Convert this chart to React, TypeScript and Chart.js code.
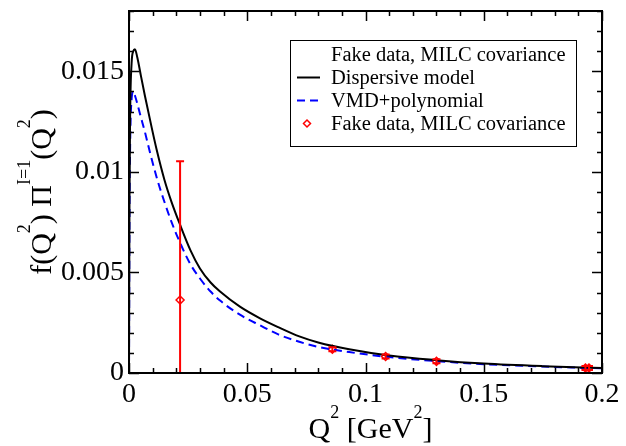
import React, { useEffect, useRef } from "react";
import { Chart, registerables } from "chart.js";
Chart.register(...registerables);

// ---- data ----
const dispQ2 = [0, 0.0002, 0.0005, 0.0011, 0.0018, 0.0025, 0.0035, 0.005, 0.0067, 0.0096, 0.0117, 0.015, 0.018, 0.0215, 0.026, 0.03, 0.0345, 0.0385, 0.0469, 0.0554, 0.0631, 0.072, 0.08, 0.0931, 0.11, 0.13, 0.15, 0.175, 0.2];
const dispY = [0, 0.0085, 0.013, 0.0154, 0.016, 0.0161, 0.0157, 0.0148, 0.0138, 0.0122, 0.0111, 0.0096, 0.0085, 0.0074, 0.0061, 0.0052, 0.0045, 0.00405, 0.0033, 0.00272, 0.00228, 0.00182, 0.00152, 0.00118, 0.00087, 0.00064, 0.00047, 0.00034, 0.00025];
const vmdQ2 = [0, 0.0002, 0.0005, 0.0011, 0.0018, 0.0025, 0.0035, 0.0046, 0.0067, 0.0088, 0.012, 0.015, 0.018, 0.0215, 0.026, 0.03, 0.0345, 0.0385, 0.0469, 0.0554, 0.0631, 0.072, 0.08, 0.0931, 0.11, 0.13, 0.15, 0.175, 0.2];
const vmdY = [0, 0.0075, 0.0115, 0.0136, 0.014, 0.0138, 0.0134, 0.0129, 0.012, 0.011, 0.0096, 0.0085, 0.0075, 0.0065, 0.0054, 0.0047, 0.00405, 0.0036, 0.0029, 0.00237, 0.00192, 0.00155, 0.0013, 0.00104, 0.00079, 0.00059, 0.00044, 0.00032, 0.00023];
const dataQ2 = [0.0216, 0.086, 0.1085, 0.13, 0.193, 0.1945];
const dataY = [0.00363, 0.00118, 0.00082, 0.00058, 0.00025, 0.00025];
const dataErr = [0.0069, 0.0001, 0.0001, 0.0001, 0.0001, 0.0001];

const xTicks = [0, 0.05, 0.1, 0.15, 0.2];
const xTickLabels = ["0", "0.05", "0.1", "0.15", "0.2"];
const yTicks = [0, 0.005, 0.01, 0.015];
const yTickLabels = ["0", "0.005", "0.01", "0.015"];
const xMinorStep = 0.01;
const yMinorStep = 0.001;

const legendLabels = ["Fake data, MILC covariance", "Dispersive model", "VMD+polynomial", "Fake data, MILC covariance"];

const FONT = "'Liberation Serif', 'Times New Roman', serif";

type Seg = { t: string; sup?: boolean };
const xTitle: Seg[] = [{ t: "Q" }, { t: "2", sup: true }, { t: " [GeV" }, { t: "2", sup: true }, { t: "]" }];
const yTitle: Seg[] = [{ t: "f(Q" }, { t: "2", sup: true }, { t: ") \u03A0" }, { t: "I=1", sup: true }, { t: "(Q" }, { t: "2", sup: true }, { t: ")" }];

function drawRich(ctx: CanvasRenderingContext2D, segs: Seg[], cx: number, baseline: number, size: number, supSize: number, supRaise: number) {
  let total = 0;
  const widths = segs.map((s) => {
    ctx.font = `${s.sup ? supSize : size}px ${FONT}`;
    const w = ctx.measureText(s.t).width;
    total += w;
    return w;
  });
  let x = cx - total / 2;
  ctx.textBaseline = "alphabetic";
  ctx.textAlign = "left";
  segs.forEach((s, i) => {
    ctx.font = `${s.sup ? supSize : size}px ${FONT}`;
    ctx.fillText(s.t, x, s.sup ? baseline - supRaise : baseline);
    x += widths[i];
  });
}

const framePlugin = {
  id: "frame",
  afterDatasetsDraw(chart: any) {
    const { ctx, chartArea } = chart;
    const { left, right, top, bottom } = chartArea;
    const ys = chart.scales.y;
    const xs = chart.scales.x;
    ctx.save();
    ctx.beginPath();
    ctx.rect(left, top, right - left, bottom - top);
    ctx.clip();
    ctx.strokeStyle = "#ff0000";
    ctx.lineWidth = 2;
    dataQ2.forEach((q, i) => {
      const px = xs.getPixelForValue(q);
      const p1 = ys.getPixelForValue(dataY[i] + dataErr[i]);
      const p0 = ys.getPixelForValue(dataY[i] - dataErr[i]);
      ctx.beginPath();
      ctx.moveTo(px, p0);
      ctx.lineTo(px, p1);
      ctx.moveTo(px - 4, p1);
      ctx.lineTo(px + 4, p1);
      ctx.moveTo(px - 4, p0);
      ctx.lineTo(px + 4, p0);
      ctx.stroke();
    });
    ctx.restore();
  },
  afterDraw(chart: any) {
    const { ctx, chartArea } = chart;
    const { left, right, top, bottom } = chartArea;
    const xs = chart.scales.x;
    const ys = chart.scales.y;
    ctx.save();
    ctx.strokeStyle = "#000";
    ctx.lineWidth = 1.5;
    const nx = Math.round((xs.max - xs.min) / xMinorStep);
    for (let i = 0; i <= nx; i++) {
      const v = xs.min + i * xMinorStep;
      const px = Math.round(xs.getPixelForValue(v)) + 0.5;
      const len = i % 5 === 0 ? 10 : 5;
      ctx.beginPath();
      ctx.moveTo(px, bottom);
      ctx.lineTo(px, bottom - len);
      ctx.moveTo(px, top);
      ctx.lineTo(px, top + len);
      ctx.stroke();
    }
    const ny = Math.round((ys.max - ys.min) / yMinorStep);
    for (let i = 0; i <= ny; i++) {
      const v = ys.min + i * yMinorStep;
      const py = Math.round(ys.getPixelForValue(v)) + 0.5;
      const len = i % 5 === 0 ? 10 : 5;
      ctx.beginPath();
      ctx.moveTo(left, py);
      ctx.lineTo(left + len, py);
      ctx.moveTo(right, py);
      ctx.lineTo(right - len, py);
      ctx.stroke();
    }
    ctx.lineWidth = 2;
    ctx.strokeRect(left, top, right - left, bottom - top);

    // axis titles
    ctx.fillStyle = "#000";
    drawRich(ctx, xTitle, (left + right) / 2 + 5, 438, 30, 18, 20);
    ctx.save();
    ctx.translate(51, (top + bottom) / 2);
    ctx.rotate(-Math.PI / 2);
    drawRich(ctx, yTitle, 0, 0, 30, 18, 21);
    ctx.restore();

    // legend
    const bx = 290, by = 40, bw = 286, bh = 106;
    ctx.fillStyle = "#fff";
    ctx.fillRect(bx, by, bw, bh);
    ctx.strokeStyle = "#000";
    ctx.lineWidth = 1;
    ctx.strokeRect(bx + 0.5, by + 0.5, bw, bh);
    ctx.font = `20.5px ${FONT}`;
    ctx.textAlign = "left";
    ctx.textBaseline = "alphabetic";
    const rowBase = [61, 84, 107, 130];
    legendLabels.forEach((lab, i) => {
      ctx.fillStyle = "#000";
      ctx.fillText(lab, 331, rowBase[i]);
      const cy = rowBase[i] - 6.5;
      if (i === 1) {
        ctx.strokeStyle = "#000";
        ctx.lineWidth = 2;
        ctx.setLineDash([]);
        ctx.beginPath();
        ctx.moveTo(297, cy);
        ctx.lineTo(320, cy);
        ctx.stroke();
      } else if (i === 2) {
        ctx.strokeStyle = "#0000ff";
        ctx.lineWidth = 2;
        ctx.setLineDash([8, 5]);
        ctx.beginPath();
        ctx.moveTo(297, cy);
        ctx.lineTo(320, cy);
        ctx.stroke();
        ctx.setLineDash([]);
      } else if (i === 3) {
        ctx.strokeStyle = "#ff0000";
        ctx.fillStyle = "#fff";
        ctx.lineWidth = 1.5;
        const r = 3.5;
        ctx.beginPath();
        ctx.moveTo(307, cy - r);
        ctx.lineTo(307 + r, cy);
        ctx.lineTo(307, cy + r);
        ctx.lineTo(307 - r, cy);
        ctx.closePath();
        ctx.fill();
        ctx.stroke();
      }
    });
    ctx.restore();
  },
};

export default function App() {
  const ref = useRef<HTMLCanvasElement | null>(null);
  useEffect(() => {
    if (!ref.current) return;
    const chart = new Chart(ref.current, {
      type: "scatter",
      data: {
        datasets: [
          {
            label: legendLabels[1],
            data: dispQ2.map((q, i) => ({ x: q, y: dispY[i] })),
            showLine: true,
            borderColor: "#000000",
            borderWidth: 2,
            pointRadius: 0,
            cubicInterpolationMode: "monotone",
          },
          {
            label: legendLabels[2],
            data: vmdQ2.map((q, i) => ({ x: q, y: vmdY[i] })),
            showLine: true,
            borderColor: "#0000ff",
            borderWidth: 2,
            borderDash: [8, 5],
            pointRadius: 0,
            cubicInterpolationMode: "monotone",
          },
          {
            label: legendLabels[3],
            data: dataQ2.map((q, i) => ({ x: q, y: dataY[i] })),
            showLine: false,
            pointStyle: "rectRot",
            pointRadius: 4,
            borderColor: "#ff0000",
            backgroundColor: "#ffffff",
            borderWidth: 1.5,
          },
        ],
      },
      options: {
        responsive: false,
        animation: false,
        layout: { padding: { top: 11, right: 24, left: 0, bottom: 0 } },
        plugins: { legend: { display: false }, tooltip: { enabled: false } },
        scales: {
          x: {
            type: "linear",
            min: 0,
            max: 0.2,
            afterBuildTicks: (s: any) => {
              s.ticks = xTicks.map((v) => ({ value: v }));
            },
            afterFit: (s: any) => {
              s.height = 73;
              s.paddingLeft = 0;
              s.paddingRight = 0;
            },
            ticks: {
              autoSkip: false,
              maxRotation: 0,
              padding: 5,
              color: "#000",
              font: { family: FONT, size: 28 },
              callback: (v: any) => xTickLabels[xTicks.indexOf(Number(v))] ?? "",
            },
            grid: { display: false, drawTicks: false },
            border: { display: false },
          },
          y: {
            type: "linear",
            min: 0,
            max: 0.018,
            afterBuildTicks: (s: any) => {
              s.ticks = yTicks.map((v) => ({ value: v }));
            },
            afterFit: (s: any) => {
              s.width = 129;
              s.paddingTop = 0;
              s.paddingBottom = 0;
            },
            ticks: {
              autoSkip: false,
              padding: 5,
              color: "#000",
              font: { family: FONT, size: 28 },
              callback: (v: any) => yTickLabels[yTicks.indexOf(Number(v))] ?? "",
            },
            grid: { display: false, drawTicks: false },
            border: { display: false },
          },
        },
      },
      plugins: [framePlugin],
    } as any);
    return () => chart.destroy();
  }, []);
  return (
    <div style={{ position: "fixed", left: 0, top: 0, width: 626, height: 446, background: "#fff" }}>
      <canvas ref={ref} width={626} height={446} />
    </div>
  );
}
